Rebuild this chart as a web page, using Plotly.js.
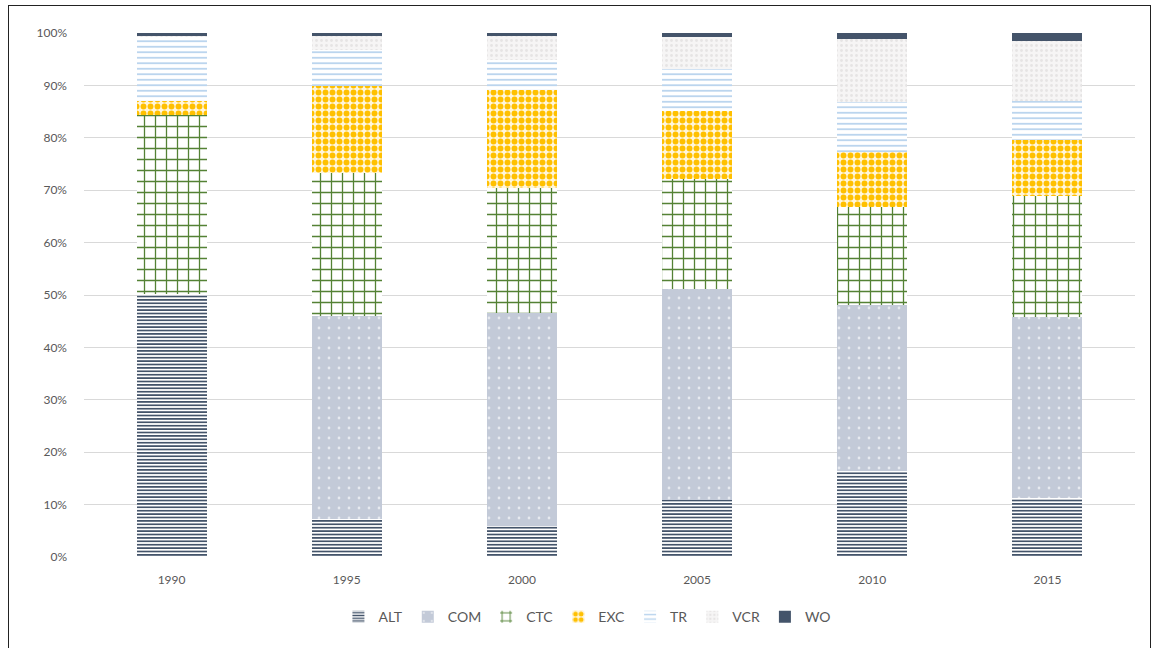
<!DOCTYPE html>
<html>
<head>
<meta charset="utf-8">
<script src="https://cdn.plot.ly/plotly-3.0.1.min.js"></script>
<style>
  html, body { margin: 0; padding: 0; background: #fff; }
  #wrap { position: relative; width: 1155px; height: 648px; overflow: hidden; }
  #chart { width: 1155px; height: 648px; }
  #frame { position: absolute; left: 8px; top: 5px; width: 1143px; height: 660px;
           border: 1.5px solid #222; pointer-events: none; box-sizing: border-box; }
</style>
</head>
<body>
<div id="wrap">
  <div id="chart"></div>
  <div id="frame"></div>
</div>
<script>
const years = ['1990', '1995', '2000', '2005', '2010', '2015'];
const ALT = [50.2, 7.3, 6.0, 10.9, 16.4, 11.2];
const COM = [0.0, 38.7, 40.6, 40.3, 31.6, 34.6];
const CTC = [34.2, 27.3, 23.8, 21.0, 18.8, 23.0];
const EXC = [2.6, 16.5, 18.7, 13.0, 10.4, 10.7];
const TR  = [12.3, 6.9, 5.7, 8.0, 9.6, 7.5];
const VCR = [0.2, 2.8, 4.7, 6.0, 12.1, 11.5];
const WO  = [0.5, 0.5, 0.5, 0.8, 1.1, 1.5];

const seriesNames = ['ALT', 'COM', 'CTC', 'EXC', 'TR', 'VCR', 'WO'];
const seriesValues = [ALT, COM, CTC, EXC, TR, VCR, WO];

const styles = {
  ALT: { color: '#44546A', pattern: { shape: '-', fgcolor: '#44546A', bgcolor: '#ffffff', size: 3.4, solidity: 0.5, fillmode: 'replace' } },
  COM: { color: '#C3CAD8', pattern: { shape: '.', fgcolor: '#E6E9EF', bgcolor: '#C3CAD8', size: 10, solidity: 0.06, fillmode: 'replace' } },
  CTC: { color: '#548235', pattern: { shape: '+', fgcolor: '#548235', bgcolor: '#ffffff', size: 11, solidity: 0.22, fillmode: 'replace' } },
  EXC: { color: '#FFC000', pattern: { shape: '.', fgcolor: '#FFC000', bgcolor: '#FFF6DC', size: 7, solidity: 0.55, fillmode: 'replace' } },
  TR:  { color: '#9DC3E6', pattern: { shape: '-', fgcolor: '#B4D1EC', bgcolor: '#ffffff', size: 5.5, solidity: 0.3, fillmode: 'replace' } },
  VCR: { color: '#E7E6E6', pattern: { shape: '.', fgcolor: '#E6E4E4', bgcolor: '#F6F5F5', size: 5, solidity: 0.25, fillmode: 'replace' } },
  WO:  { color: '#44546A' }
};

const traces = seriesNames.map((name, i) => {
  const st = styles[name];
  const marker = { color: st.color, line: { width: 0 } };
  if (st.pattern) marker.pattern = st.pattern;
  return {
    type: 'bar',
    name: name,
    x: years,
    y: seriesValues[i],
    marker: marker,
    hoverinfo: 'x+y+name'
  };
});

const layout = {
  width: 1155,
  height: 648,
  barmode: 'stack',
  bargap: 0.6,
  paper_bgcolor: '#ffffff',
  plot_bgcolor: '#ffffff',
  margin: { l: 84, r: 20, t: 33, b: 91 },
  font: { family: 'Lato, Open Sans, Liberation Sans, sans-serif', color: '#595959', size: 12 },
  xaxis: {
    type: 'category',
    showgrid: false,
    zeroline: false,
    showline: false,
    ticks: '',
    tickfont: { size: 12, color: '#595959' },
    ticklabelstandoff: 14
  },
  yaxis: {
    range: [0, 100],
    dtick: 10,
    ticksuffix: '%',
    showgrid: true,
    gridcolor: '#D9D9D9',
    gridwidth: 1,
    zeroline: false,
    showline: false,
    ticks: '',
    tickfont: { size: 12, color: '#595959' },
    ticklabelstandoff: 16
  },
  legend: {
    orientation: 'h',
    x: 0.479,
    xanchor: 'center',
    y: -0.115,
    yanchor: 'middle',
    traceorder: 'normal',
    font: { size: 14, color: '#595959' },
    itemwidth: 30,
    tracegroupgap: 0
  },
  showlegend: true
};

Plotly.newPlot('chart', traces, layout, { displayModeBar: false, staticPlot: true });
</script>
</body>
</html>
